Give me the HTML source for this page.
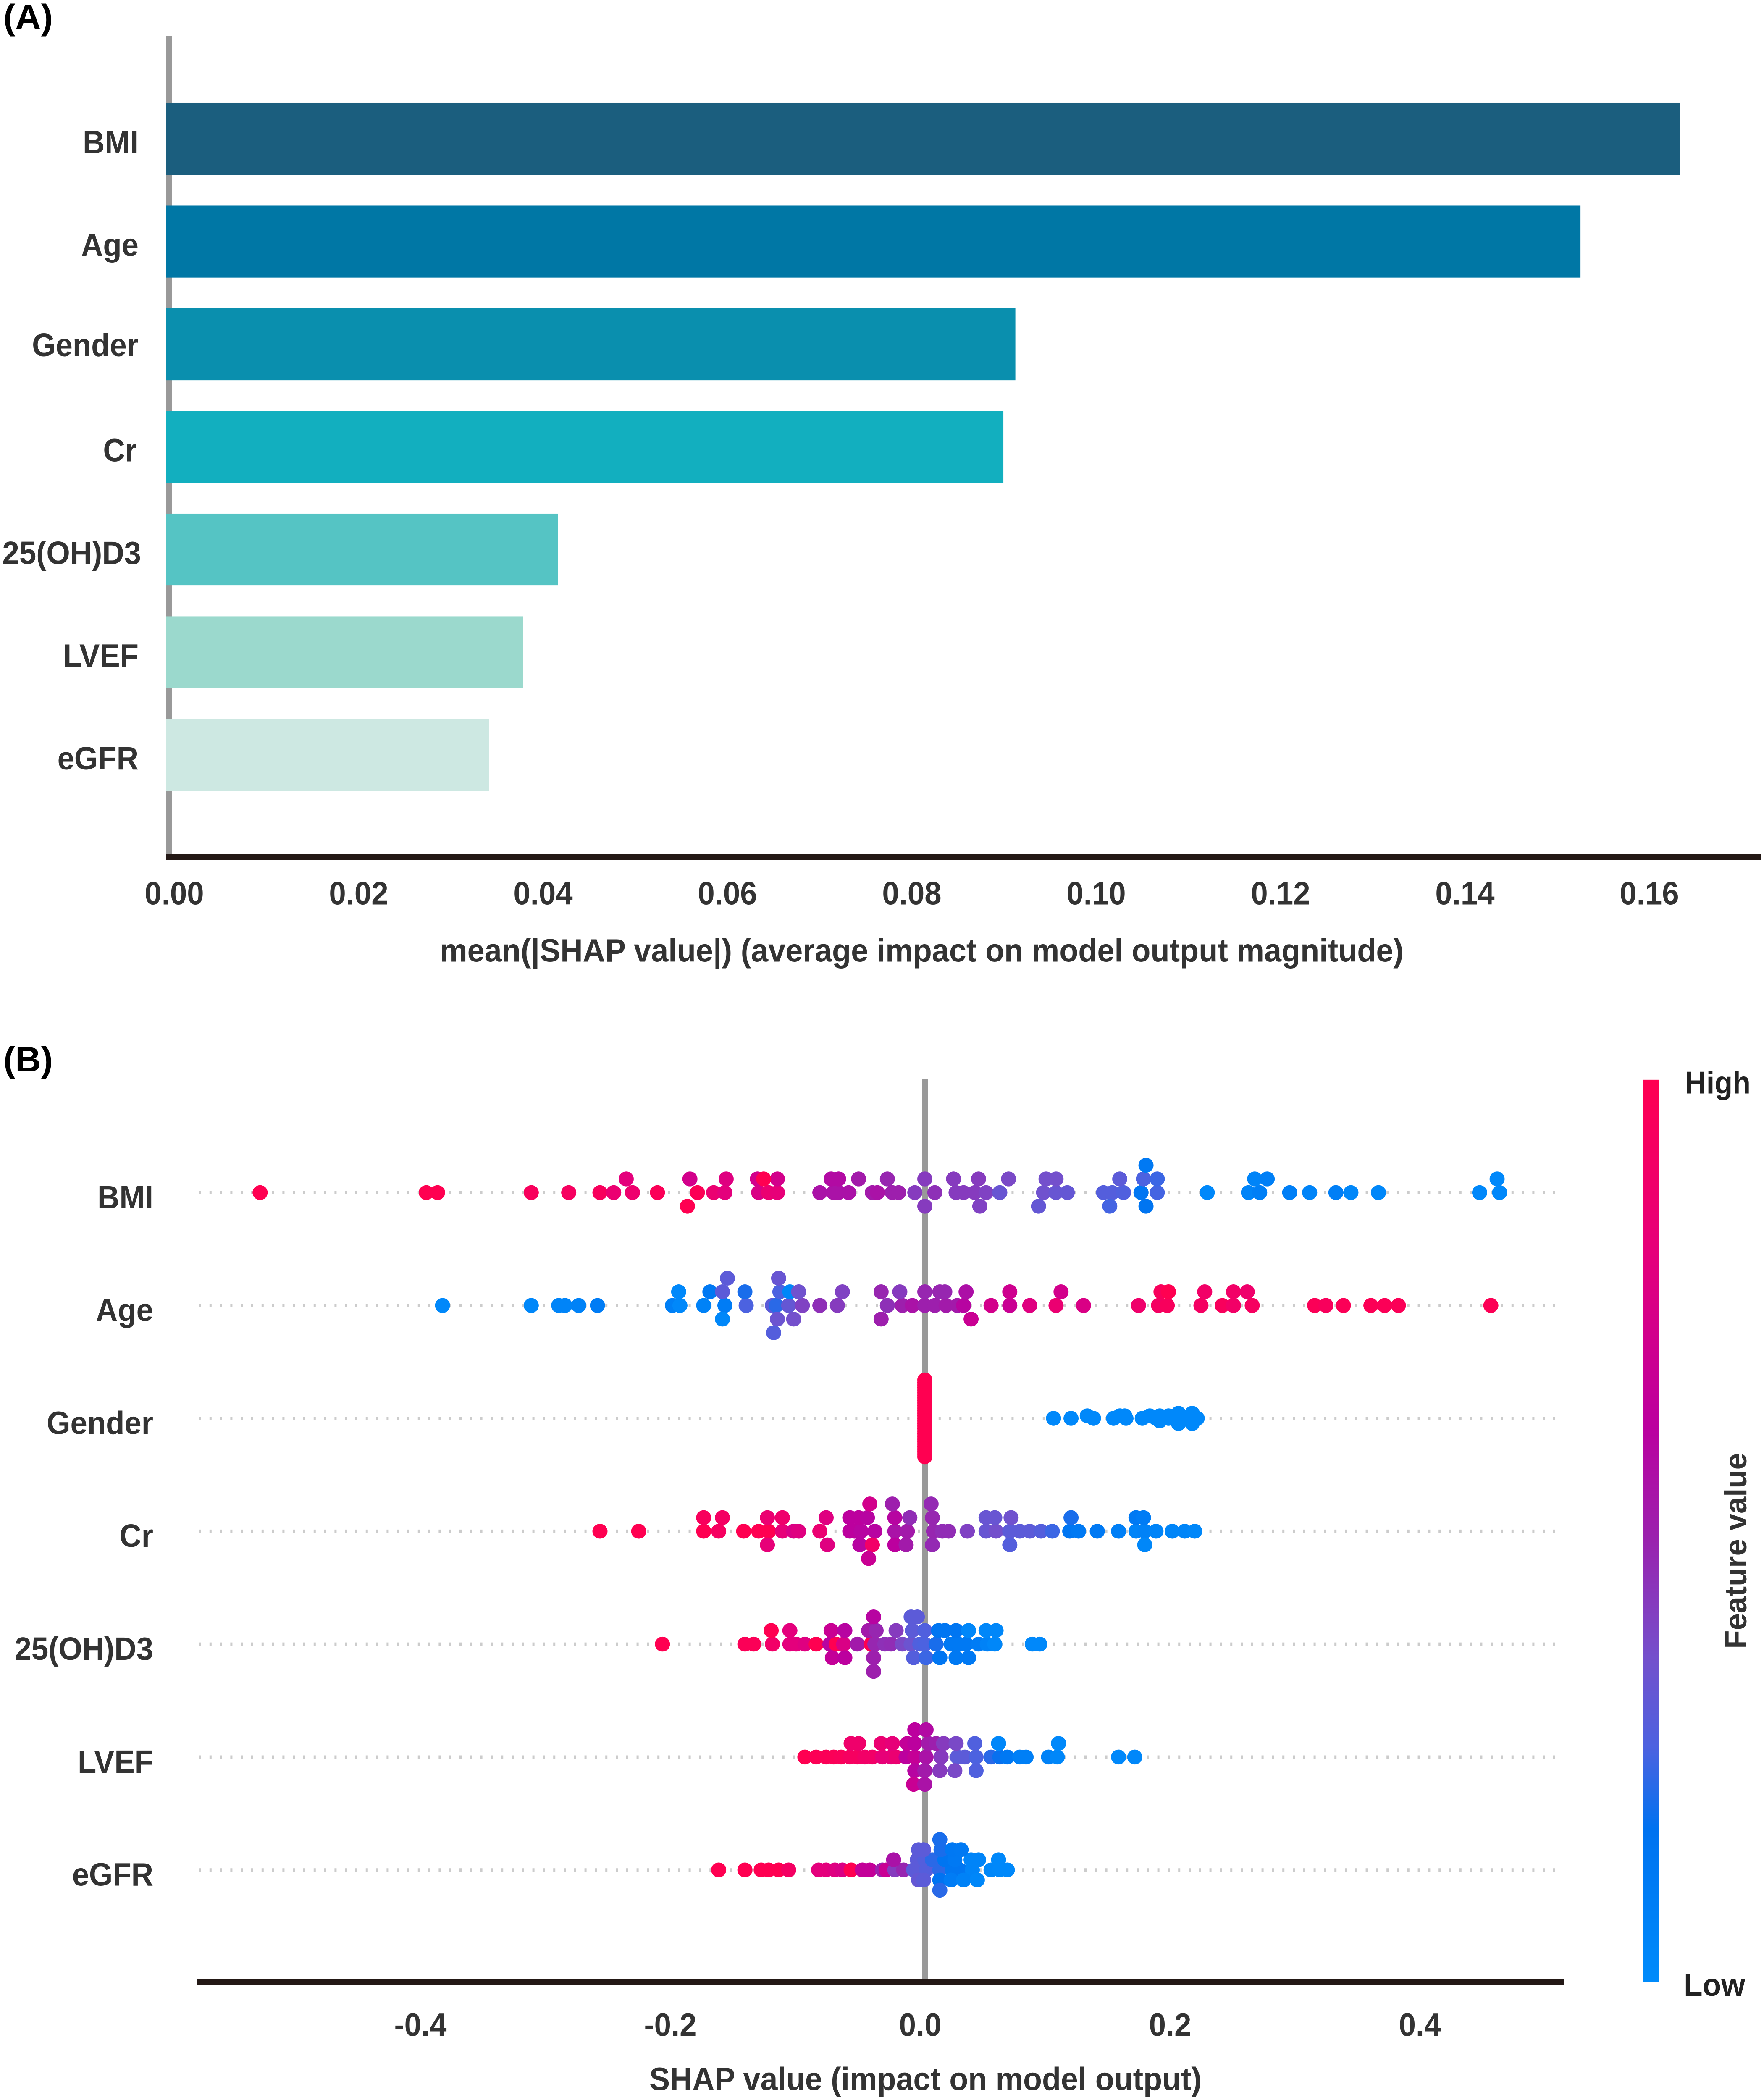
<!DOCTYPE html>
<html lang="en">
<head>
<meta charset="utf-8">
<title>SHAP feature importance</title>
<style>
html,body{margin:0;padding:0;background:#fff;overflow:hidden;width:4200px;}
svg{display:block;}
text{font-family:"Liberation Sans",Arial,sans-serif;font-weight:700;}
</style>
</head>
<body>
<svg id="chart" xmlns="http://www.w3.org/2000/svg" width="4200" height="5082" viewBox="0 0 4200 5082" preserveAspectRatio="none">
  <rect x="0" y="0" width="4200" height="5082" fill="#ffffff"/>
  <text x="8" y="70" font-size="85" fill="#000">(A)</text>
  <text x="8" y="2593" font-size="85" fill="#000">(B)</text>
  <g id="panelA">
    <rect x="395" y="87" width="15" height="1985" fill="#999999"/>
    <rect x="396" y="2067" width="3797" height="14" fill="#231815"/>
    <text x="1047" y="2327" font-size="78" fill="#333" textLength="2295" lengthAdjust="spacingAndGlyphs">mean(|SHAP value|) (average impact on model output magnitude)</text>
  </g>
  <g id="panelB">
    <g id="dotted"></g>
    <rect x="2195" y="2612" width="14" height="2180" fill="#999999"/>
    <rect x="469" y="4790" width="3254" height="13" fill="#231815"/>
    <g id="dots"></g>
    <text x="1546" y="5058" font-size="78" fill="#333" textLength="1315" lengthAdjust="spacingAndGlyphs">SHAP value (impact on model output)</text>
    <defs><linearGradient id="cbarGrad" x1="0" y1="0" x2="0" y2="1"></linearGradient></defs>
    <rect x="3913" y="2613" width="38" height="2184" fill="url(#cbarGrad)"/>
    <text x="4012" y="2646" font-size="76" fill="#222" textLength="156" lengthAdjust="spacingAndGlyphs">High</text>
    <text x="4009" y="4830" font-size="76" fill="#222" textLength="146" lengthAdjust="spacingAndGlyphs">Low</text>
    <text transform="translate(4158,3990) rotate(-90)" x="0" y="0" font-size="73" fill="#333" textLength="474" lengthAdjust="spacingAndGlyphs">Feature value</text>
  </g>
</svg>
<script>
// ---------- Panel A data ----------
const features = ["BMI","Age","Gender","Cr","25(OH)D3","LVEF","eGFR"];
const meanShap = [0.1642,0.1534,0.0921,0.0908,0.0425,0.0387,0.0350];
const barColors = ["#1b5e7e","#0077a5","#0a8fae","#12afbf","#55c4c4","#9bd9cd","#cde8e2"];
const barTicks = [0,0.02,0.04,0.06,0.08,0.10,0.12,0.14,0.16];
const barTickLabels = ["0.00","0.02","0.04","0.06","0.08","0.10","0.12","0.14","0.16"];

// ---------- Panel B data ----------
const swarmTicks = [-0.4,-0.2,0,0.2,0.4];
const swarmTickLabels = ["-0.4","-0.2","0.0","0.2","0.4"];
const cmapPos = [0,0.17,0.26,0.36,0.49,0.615,0.81,1];
const cmapHex = ["#008bfb","#0072f0","#4c62e0","#7450cc","#9a22ae","#bb009f","#e6007a","#ff0051"];

const bmiShap = [
-.532,-.399,-.390,-.315,-.285,-.260,-.249,-.234,-.214,-.182,-.169,-.160,
-.133,-.125,-.118,-.084,-.073,-.069,-.061,-.042,-.038,-.026,-.021,-.008,
.008,.025,.031,.040,.049,.060,.095,.105,.114,.143,.150,.159,
.173,.186,.226,.259,.268,.292,.308,.329,.341,.363,.444,.460,
-.239,-.188,-.159,-.134,-.118,-.129,-.075,-.069,-.053,-.030,.000,.023,
.043,.067,.097,.105,.156,.175,.186,.264,.274,.458,
.177,
-.190,.000,.044,.091,.148,.177];
const bmiFeature = [
1,1,1,.95,.93,.95,.85,.87,.97,.98,.85,.8,
.75,.85,.82,.55,.55,.55,.55,.52,.55,.5,.5,.42,
.45,.42,.42,.42,.4,.33,.35,.33,.32,.28,.28,.27,
.14,.25,.02,.05,.08,.08,.05,.08,.03,.03,.02,.02,
.8,.72,.78,.72,.72,1,.58,.58,.52,.48,.42,.42,
.42,.38,.36,.36,.3,.26,.24,.05,.08,.02,
.12,
1,.42,.4,.32,.25,.15];
const bmiLane = [
0,0,0,0,0,0,0,0,0,0,0,0,
0,0,0,0,0,0,0,0,0,0,0,0,
0,0,0,0,0,0,0,0,0,0,0,0,
0,0,0,0,0,0,0,0,0,0,0,0,
-1,-1,-1,-1,-1,-1,-1,-1,-1,-1,-1,-1,
-1,-1,-1,-1,-1,-1,-1,-1,-1,-1,
-2,
1,1,1,1,1,1];

const ageShap = [
-.386,-.315,-.293,-.288,-.277,-.262,-.202,-.196,-.177,-.160,-.143,-.122,
-.119,-.109,-.098,-.084,-.070,-.030,-.018,-.010,.000,.008,.017,.026,
.031,.053,.068,.084,.105,.127,.171,.187,.194,.221,.238,.247,
.262,.312,.321,.335,.357,.368,.379,.453,
-.197,-.172,-.162,-.144,-.116,-.108,-.101,-.066,-.035,-.020,.000,.012,
.016,.033,.068,.109,.189,.195,.224,.247,.258,
-.158,-.117,
-.162,-.118,-.105,-.035,.037,
-.121];
const ageFeature = [
.02,.03,.05,.05,.06,.1,.08,.02,.06,.1,.26,.3,
.22,.32,.4,.45,.42,.45,.5,.55,.5,.5,.52,.52,
.6,.72,.68,.78,.85,.75,.88,.92,.95,.92,.95,.9,
.93,.97,.95,.97,.98,.97,.97,.98,
.02,.12,.3,.2,.26,.03,.35,.4,.48,.42,.48,.48,
.48,.56,.7,.72,.95,1,.9,.9,.88,
.3,.33,
.03,.34,.36,.5,.68,
.28];
const ageLane = [
0,0,0,0,0,0,0,0,0,0,0,0,
0,0,0,0,0,0,0,0,0,0,0,0,
0,0,0,0,0,0,0,0,0,0,0,0,
0,0,0,0,0,0,0,0,
-1,-1,-1,-1,-1,-1,-1,-1,-1,-1,-1,-1,
-1,-1,-1,-1,-1,-1,-1,-1,-1,
-2,-2,
1,1,1,1,1,
2];

const genderShap = [
.000,.000,.000,.000,.000,.000,.000,.000,.000,.000,
.000,.000,.000,.000,.000,.000,.000,.000,.000,.000,
.000,.000,.000,.000,.000,.000,.000,.000,.000,.000,.000,
.103,.117,.135,.130,.151,.161,.156,.160,.174,.180,.188,
.188,.185,.195,.195,.203,.203,.205,.214,.214,.218];
const genderFeature = [
1,1,1,1,1,1,1,1,1,1,
1,1,1,1,1,1,1,1,1,1,
1,1,1,1,1,1,1,1,1,1,1,
.02,.02,.02,.02,.02,.02,.02,.02,.02,.02,.02,
.02,.02,.02,.02,.02,.02,.02,.02,.02,.02];
const genderLane = [
-15,-14,-13,-12,-11,-10,-9,-8,-7,-6,
-5,-4,-3,-2,-1,0,1,2,3,4,
5,6,7,8,9,10,11,12,13,14,15,
0,0,0,-1,0,0,-1,-1,0,-1,-1,
1,0,-1,0,-2,2,0,-2,2,0];

const crShap = [
-.260,-.229,-.177,-.165,-.145,-.133,-.125,-.114,-.105,-.101,-.084,-.060,
-.056,-.051,-.040,-.024,-.014,.007,.014,.019,.034,.049,.057,.068,
.076,.084,.093,.102,.116,.123,.138,.155,.169,.176,.185,.198,
.208,.216,
-.177,-.162,-.126,-.114,-.079,-.060,-.053,-.046,-.024,-.012,.006,.049,
.056,.069,.117,.169,.175,
-.044,-.026,.005,
-.126,-.078,-.052,-.042,-.024,-.015,.006,.068,.176,
-.045];
const crFeature = [
1,1,1,.93,1,1,1,.82,.75,.78,.85,.62,
.62,.6,.6,.55,.52,.48,.46,.46,.4,.33,.36,.3,
.3,.3,.28,.24,.14,.12,.12,.08,.05,.06,.05,.04,
.04,.03,
.95,.92,.85,.88,.78,.62,.62,.6,.6,.46,.48,.33,
.33,.35,.2,.12,.1,
.72,.5,.47,
.82,.78,.6,.9,.62,.52,.47,.28,.03,
.68];
const crLane = [
0,0,0,0,0,0,0,0,0,0,0,0,
0,0,0,0,0,0,0,0,0,0,0,0,
0,0,0,0,0,0,0,0,0,0,0,0,
0,0,
-1,-1,-1,-1,-1,-1,-1,-1,-1,-1,-1,-1,
-1,-1,-1,-1,-1,
-2,-2,-2,
1,1,1,1,1,1,1,1,1,
2];

const vitdShap = [
-.210,-.144,-.137,-.122,-.108,-.103,-.096,-.087,-.076,-.071,-.065,-.054,
-.043,-.040,-.032,-.027,-.018,-.011,-.004,.000,.009,.021,.027,.033,
.043,.050,.056,.086,.092,
-.123,-.108,-.075,-.064,-.045,-.039,-.023,-.010,.000,.011,.016,.025,
.035,.049,.057,
-.041,-.011,-.006,
-.074,-.064,-.041,-.009,.001,.012,.025,.035,
-.041];
const vitdFeature = [
1,.97,.97,.9,.8,.8,.78,1,.6,1,.75,.52,
1,.48,.45,.46,.38,.34,.27,.26,.2,.12,.12,.12,
.1,.06,.03,.02,.02,
1,.8,.68,.6,.52,.48,.42,.3,.27,.15,.14,.14,
.03,.03,.03,
.6,.3,.3,
.65,.62,.5,.28,.24,.14,.12,.12,
.5];
const vitdLane = [
0,0,0,0,0,0,0,0,0,0,0,0,
0,0,0,0,0,0,0,0,0,0,0,0,
0,0,0,0,0,
-1,-1,-1,-1,-1,-1,-1,-1,-1,-1,-1,-1,
-1,-1,-1,
-2,-2,-2,
1,1,1,1,1,1,1,1,
2];

const lvefShap = [
-.096,-.087,-.079,-.073,-.067,-.060,-.054,-.048,-.042,-.034,-.027,-.023,
-.015,-.008,.001,.013,.026,.032,.041,.053,.060,.066,.076,.081,
.099,.106,.155,.168,
-.059,-.053,-.035,-.026,-.014,-.008,.003,.009,.015,.025,.040,.059,
.107,
-.008,.001,
-.008,.000,.012,.024,.041,
-.009,.000];
const lvefFeature = [
1,.98,.97,.97,.96,.93,.93,.9,.9,.82,.82,.85,
.62,.66,.55,.42,.3,.3,.26,.22,.18,.13,.08,.08,
.06,.03,.02,.03,
.88,.88,.85,.82,.65,.62,.52,.5,.42,.38,.27,.03,
.02,
.62,.58,
.6,.52,.42,.38,.27,
.68,.55];
const lvefLane = [
0,0,0,0,0,0,0,0,0,0,0,0,
0,0,0,0,0,0,0,0,0,0,0,0,
0,0,0,0,
-1,-1,-1,-1,-1,-1,-1,-1,-1,-1,-1,-1,
-1,
-2,-2,
1,1,1,1,1,
2,2];

const egfrShap = [
-.165,-.144,-.131,-.125,-.117,-.109,-.085,-.079,-.072,-.066,-.059,-.050,
-.044,-.034,-.031,-.024,-.017,-.009,-.004,.001,.012,.022,.028,.038,
.053,.060,.066,
-.025,-.006,.000,.006,.016,.024,.037,.043,.059,
-.005,-.001,.013,.022,.029,
.012,
-.005,-.001,.012,.021,.031,.042,
.012];
const egfrFeature = [
1,1,1,1,1,.92,.8,.8,.78,.75,1,.65,
.65,.5,.68,.42,.48,.3,.3,.28,.22,.14,.14,.05,
.03,.02,.02,
.55,.3,.28,.22,.15,.12,.05,.05,.02,
.3,.3,.2,.13,.12,
.2,
.32,.3,.16,.1,.06,.03,
.22];
const egfrLane = [
0,0,0,0,0,0,0,0,0,0,0,0,
0,0,0,0,0,0,0,0,0,0,0,0,
0,0,0,
-1,-1,-1,-1,-1,-1,-1,-1,-1,
-2,-2,-2,-2,-2,
-3,
1,1,1,1,1,1,
2];

const NS = "http://www.w3.org/2000/svg";
const chartSvg = document.getElementById("chart");
const panelA = document.getElementById("panelA");
const panelB = document.getElementById("panelB");
const dottedLayer = document.getElementById("dotted");
const dotLayer = document.getElementById("dots");
const grad = document.getElementById("cbarGrad");

// keep the whole figure inside the frame if the capture window is shorter than the page
const frameH = window.innerHeight;
if (frameH >= 4000 && frameH < 5082) {
  chartSvg.setAttribute("height", frameH);
}

// axis functions
function xA(v){ return 396 + v * 21950; }
function xB(v){ return 2202 + v * 2975; }
function rowA(i){ return 249 + i * 248.5; }
function rowB(i){ return 2886 + i * 273.2; }

function hexRgb(h){ return [1,3,5].map(function(k){ return parseInt(h.substr(k,2),16); }); }
function cmap(t){
  t = Math.max(0, Math.min(1, t));
  for (let i = 1; i < cmapPos.length; i++) {
    if (t <= cmapPos[i]) {
      const f = (t - cmapPos[i-1]) / (cmapPos[i] - cmapPos[i-1]);
      const a = hexRgb(cmapHex[i-1]), b = hexRgb(cmapHex[i]);
      return "rgb(" + a.map(function(c,k){ return Math.round(c + (b[k]-c)*f); }).join(",") + ")";
    }
  }
  return cmapHex[cmapHex.length-1];
}
function makeText(parent, x, y, str, anchor){
  const el = document.createElementNS(NS, "text");
  el.setAttribute("transform", "translate(" + x + "," + y + ") scale(.93,1)");
  el.setAttribute("text-anchor", anchor);
  el.setAttribute("font-size", "78");
  el.setAttribute("fill", "#333");
  el.textContent = str;
  parent.appendChild(el);
  return el;
}

// colorbar gradient
for (let i = cmapPos.length - 1; i >= 0; i--) {
  const s = document.createElementNS(NS, "stop");
  s.setAttribute("offset", String(1 - cmapPos[i]));
  s.setAttribute("stop-color", cmapHex[i]);
  grad.appendChild(s);
}

// Panel A: bars
features.forEach(function(name, i){
  const r = document.createElementNS(NS, "rect");
  
  
  r.setAttribute("x", xA(0));
  r.setAttribute("y", rowA(i));
  r.setAttribute("width", xA(meanShap[i]) - xA(0));
  r.setAttribute("height", 174);
  r.setAttribute("fill", barColors[i]);
  panelA.appendChild(r);
  const endX = name === "25(OH)D3" ? 336 : (name === "Cr" ? 326 : 330);
  const labelY = rowA(i) + (name === "Gender" ? 116 : 122);
  const t = makeText(panelA, endX, labelY, name, "end");
  
  
});
barTicks.forEach(function(v, i){
  const t = makeText(panelA, xA(v) + 19, 2189, barTickLabels[i], "middle");
  
  
});

// Panel B: swarm rows
const swarmRows = [
  {shap: bmiShap, feat: bmiFeature, lane: bmiLane, step: 33},
  {shap: ageShap, feat: ageFeature, lane: ageLane, step: 33},
  {shap: genderShap, feat: genderFeature, lane: genderLane, step: 6.2},
  {shap: crShap, feat: crFeature, lane: crLane, step: 33},
  {shap: vitdShap, feat: vitdFeature, lane: vitdLane, step: 33},
  {shap: lvefShap, feat: lvefFeature, lane: lvefLane, step: 33},
  {shap: egfrShap, feat: egfrFeature, lane: egfrLane, step: 24.5}
];
swarmRows.forEach(function(row, i){
  const name = features[i].toLowerCase().replace(/[()]/g, '');
  const y = rowB(i);
  const line = document.createElementNS(NS, "line");
  
  
  line.setAttribute("x1", 474);
  line.setAttribute("x2", 3705);
  line.setAttribute("y1", y);
  line.setAttribute("y2", y);
  line.setAttribute("stroke", "#cccccc");
  line.setAttribute("stroke-width", 8);
  line.setAttribute("stroke-dasharray", "5 19.8");
  dottedLayer.appendChild(line);
  const lab = makeText(panelB, 365, y + 38, features[i], "end");
  
  
  const g = document.createElementNS(NS, "g");
  
  
  row.shap.forEach(function(v, k){
    const c = document.createElementNS(NS, "circle");
    
    
    c.setAttribute("cx", xB(v));
    c.setAttribute("cy", y + (row.lane[k] || 0) * row.step);
    c.setAttribute("r", 18);
    c.setAttribute("fill", cmap(row.feat[k]));
    g.appendChild(c);
  });
  dotLayer.appendChild(g);
});
swarmTicks.forEach(function(v, i){
  const t = makeText(panelB, xB(v) - 11, 4927, swarmTickLabels[i], "middle");
  
  
});
</script>
</body>
</html>
